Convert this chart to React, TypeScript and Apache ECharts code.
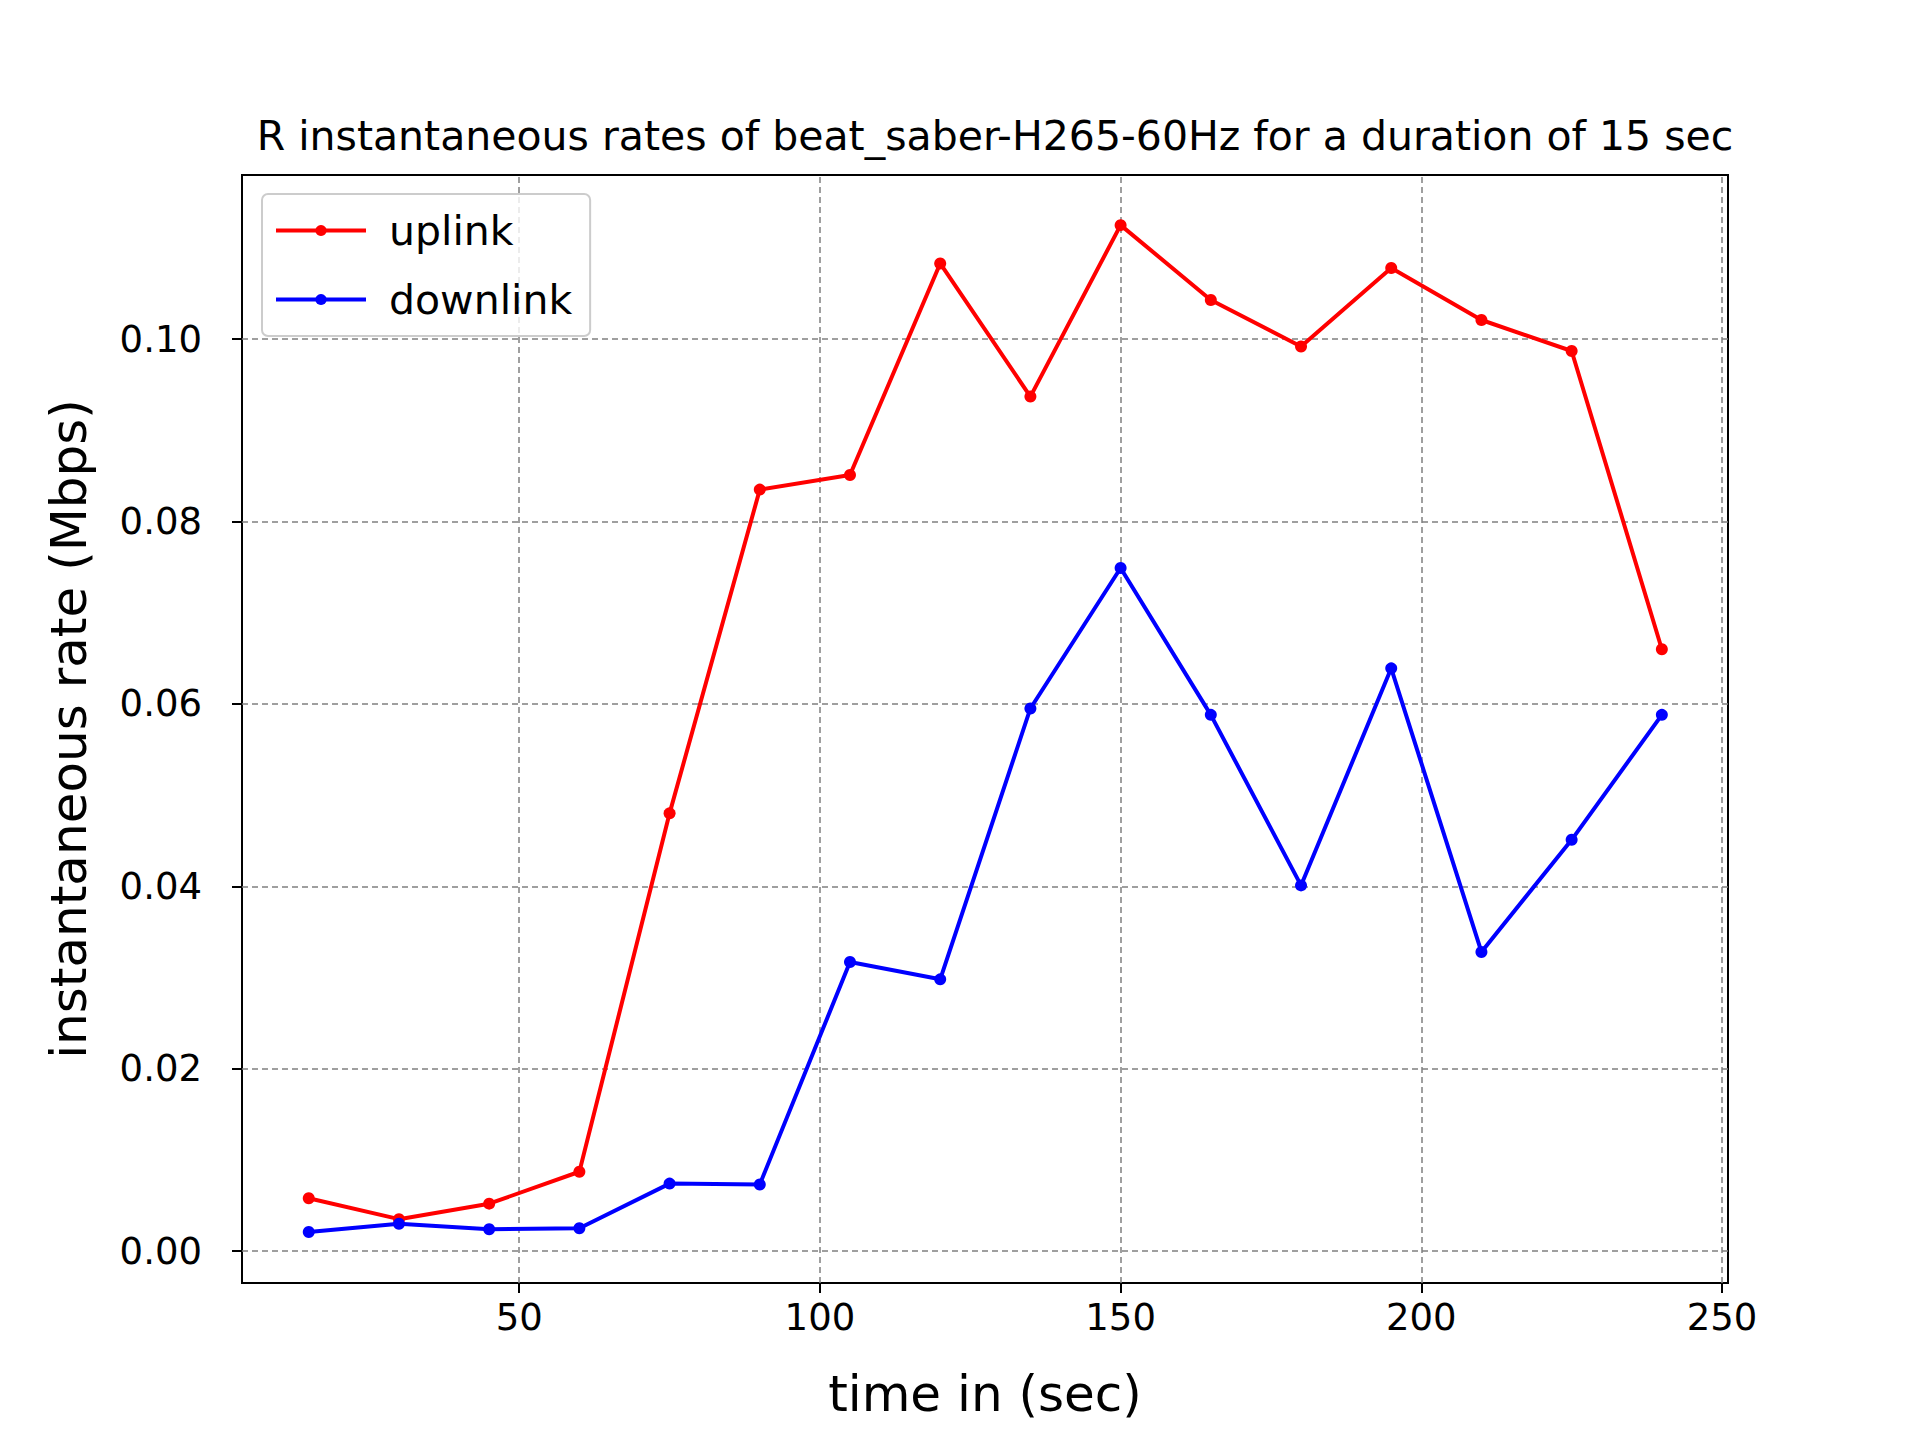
import { useRef, useEffect } from 'react'
import * as echarts from 'echarts'

const times = [15, 30, 45, 60, 75, 90, 105, 120, 135, 150, 165, 180, 195, 210, 225, 240]
const uplink = [0.0058, 0.0035, 0.0052, 0.0087, 0.048, 0.0835, 0.0851, 0.1083, 0.0937, 0.1125, 0.1043, 0.0992, 0.1078, 0.1021, 0.0987, 0.066]
const downlink = [0.0021, 0.003, 0.0024, 0.0025, 0.0074, 0.0073, 0.0317, 0.0298, 0.0595, 0.0749, 0.0588, 0.0401, 0.0639, 0.0328, 0.0451, 0.0588]
const xTicks = [50, 100, 150, 200, 250]
const yTicks = [0, 0.02, 0.04, 0.06, 0.08, 0.1]

const FONT = 'DejaVu Sans'

export default function App() {
  const chartRef = useRef<HTMLDivElement>(null)

  useEffect(() => {
    if (!chartRef.current) return
    const chart = echarts.init(chartRef.current, undefined, { renderer: 'svg' })
    const grid = { lineStyle: { color: '#808080', type: [6, 4] as number[], width: 1.5 } }

    chart.setOption({
      animation: false,
      backgroundColor: '#fff',
      textStyle: { fontFamily: FONT },
      title: {
        text: 'R instantaneous rates of beat_saber-H265-60Hz for a duration of 15 sec',
        left: 990,
        textAlign: 'center',
        top: 110,
        textStyle: { fontFamily: FONT, fontSize: 41, fontWeight: 'normal', color: '#000' },
      },
      legend: {
        orient: 'vertical',
        left: 262,
        top: 194,
        padding: [16, 18, 16, 12],
        itemGap: 28,
        itemWidth: 90,
        itemHeight: 14,
        borderColor: '#ccc',
        borderWidth: 2,
        borderRadius: 6,
        backgroundColor: 'rgba(255,255,255,0.8)',
        lineStyle: { width: 4 },
        textStyle: { fontFamily: FONT, fontSize: 41, color: '#000', padding: [0, 0, 0, 18] },
        data: ['uplink', 'downlink'],
      },
      grid: {
        left: 242, right: 192, top: 175, bottom: 157,
        show: true, borderColor: '#000', borderWidth: 2,
      },
      xAxis: {
        type: 'value',
        min: 3.9,
        max: 251,
        name: 'time in (sec)',
        nameLocation: 'middle',
        nameGap: 86,
        nameTextStyle: { fontFamily: FONT, fontSize: 50, color: '#000' },
        axisLine: { show: true, onZero: false, lineStyle: { color: '#000', width: 2 } },
        axisTick: { show: true, length: 10, customValues: xTicks, lineStyle: { color: '#000', width: 2 } },
        axisLabel: { customValues: xTicks, fontSize: 37, color: '#000', margin: 16, fontFamily: FONT },
        splitLine: { show: false },
      },
      yAxis: {
        type: 'value',
        min: -0.0035,
        max: 0.118,
        name: 'instantaneous rate (Mbps)',
        nameLocation: 'middle',
        nameGap: 148,
        nameTextStyle: { fontFamily: FONT, fontSize: 50, color: '#000' },
        axisLine: { show: true, lineStyle: { color: '#000', width: 2 } },
        axisTick: { show: true, length: 10, customValues: yTicks, lineStyle: { color: '#000', width: 2 } },
        axisLabel: {
          customValues: yTicks, fontSize: 37, color: '#000', margin: 40, fontFamily: FONT,
          formatter: (v: number) => v.toFixed(2),
        },
        splitLine: { show: false },
      },
      series: [
        {
          name: 'uplink',
          type: 'line',
          data: times.map((t, i) => [t, uplink[i]]),
          symbol: 'circle',
          symbolSize: 12,
          lineStyle: { color: '#ff0000', width: 4 },
          itemStyle: { color: '#ff0000' },
          z: 3,
          markLine: {
            silent: true,
            symbol: 'none',
            label: { show: false },
            lineStyle: grid.lineStyle,
            data: [
              ...xTicks.map((x) => ({ xAxis: x })),
              ...yTicks.map((y) => ({ yAxis: y })),
            ],
            z: 1,
          },
        },
        {
          name: 'downlink',
          type: 'line',
          data: times.map((t, i) => [t, downlink[i]]),
          symbol: 'circle',
          symbolSize: 12,
          lineStyle: { color: '#0000ff', width: 4 },
          itemStyle: { color: '#0000ff' },
          z: 3,
        },
      ],
    })
    return () => chart.dispose()
  }, [])

  return (
    <div
      ref={chartRef}
      style={{ position: 'absolute', left: 0, top: 0, width: 1920, height: 1440 }}
    />
  )
}
